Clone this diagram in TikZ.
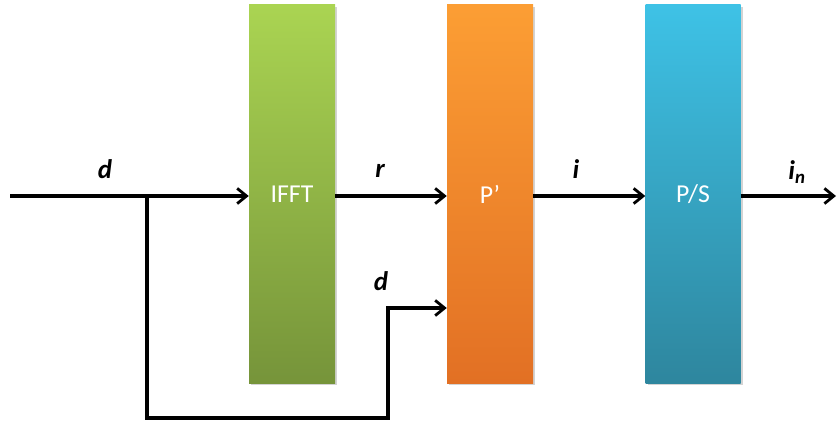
\documentclass[tikz,border=0pt]{standalone}
\usepackage{fontspec}
\setmainfont{Carlito}
\usetikzlibrary{arrows.meta, positioning, shadows}

\definecolor{ifftTop}{RGB}{170,212,82}
\definecolor{ifftBot}{RGB}{118,148,58}
\definecolor{permTop}{RGB}{252,158,52}
\definecolor{permBot}{RGB}{226,112,36}
\definecolor{psTop}{RGB}{62,194,230}
\definecolor{psBot}{RGB}{46,134,158}

\tikzset{
    blockbox/.style={minimum width=86*0.03cm, minimum height=378*0.03cm,
        inner sep=0pt, text=white, font=\fontsize{22}{26}\selectfont,
        drop shadow={opacity=0.35, shadow xshift=2pt, shadow yshift=-2pt}},
    sigline/.style={line width=2.6pt, -{Straight Barb[length=8pt, width=13pt, line width=2.4pt]}},
    plainline/.style={line width=2.6pt},
    siglabel/.style={font=\fontsize{23}{27}\selectfont\bfseries\itshape}
}

\begin{document}
\begin{tikzpicture}[x=0.03cm, y=-0.03cm]
    \useasboundingbox (0,0) rectangle (837,429);

    % blocks
    \node[blockbox, top color=ifftTop, bottom color=ifftBot] (ifft) at (292,194) {IFFT};
    \node[blockbox, top color=permTop, bottom color=permBot] (perm) at (490,194) {P’};
    \node[blockbox, minimum width=95*0.03cm, top color=psTop, bottom color=psBot] (ps) at (693,194) {P/S};

    % free ends and bends
    \coordinate (in) at (10,196);
    \coordinate (split) at (147,196);
    \coordinate (low) at (147,418);
    \coordinate (lowR) at (388,418);
    \coordinate (up) at (388,308);
    \coordinate (out) at (836,196);

    % signal flow
    \draw[plainline] (in) -- (split);
    \draw[sigline] (split) -- (split -| ifft.west);
    \draw[sigline] (ifft.east |- in) -- (in -| perm.west);
    \draw[sigline] (perm.east |- in) -- (in -| ps.west);
    \draw[sigline] (ps.east |- in) -- (out);
    \draw[sigline] (split) -- (low) -- (lowR) -- (up) -- (up -| perm.west);

    % labels
    \node[siglabel] (ld) at (105,169) {d};
    \node[siglabel] (lr) at (380,171) {r};
    \node[siglabel] (li) at (576,169) {i};
    \node[siglabel] (lin) at (797,172) {i\textsubscript{n}};
    \node[siglabel] (ld2) at (381,281) {d};
\end{tikzpicture}
\end{document}
